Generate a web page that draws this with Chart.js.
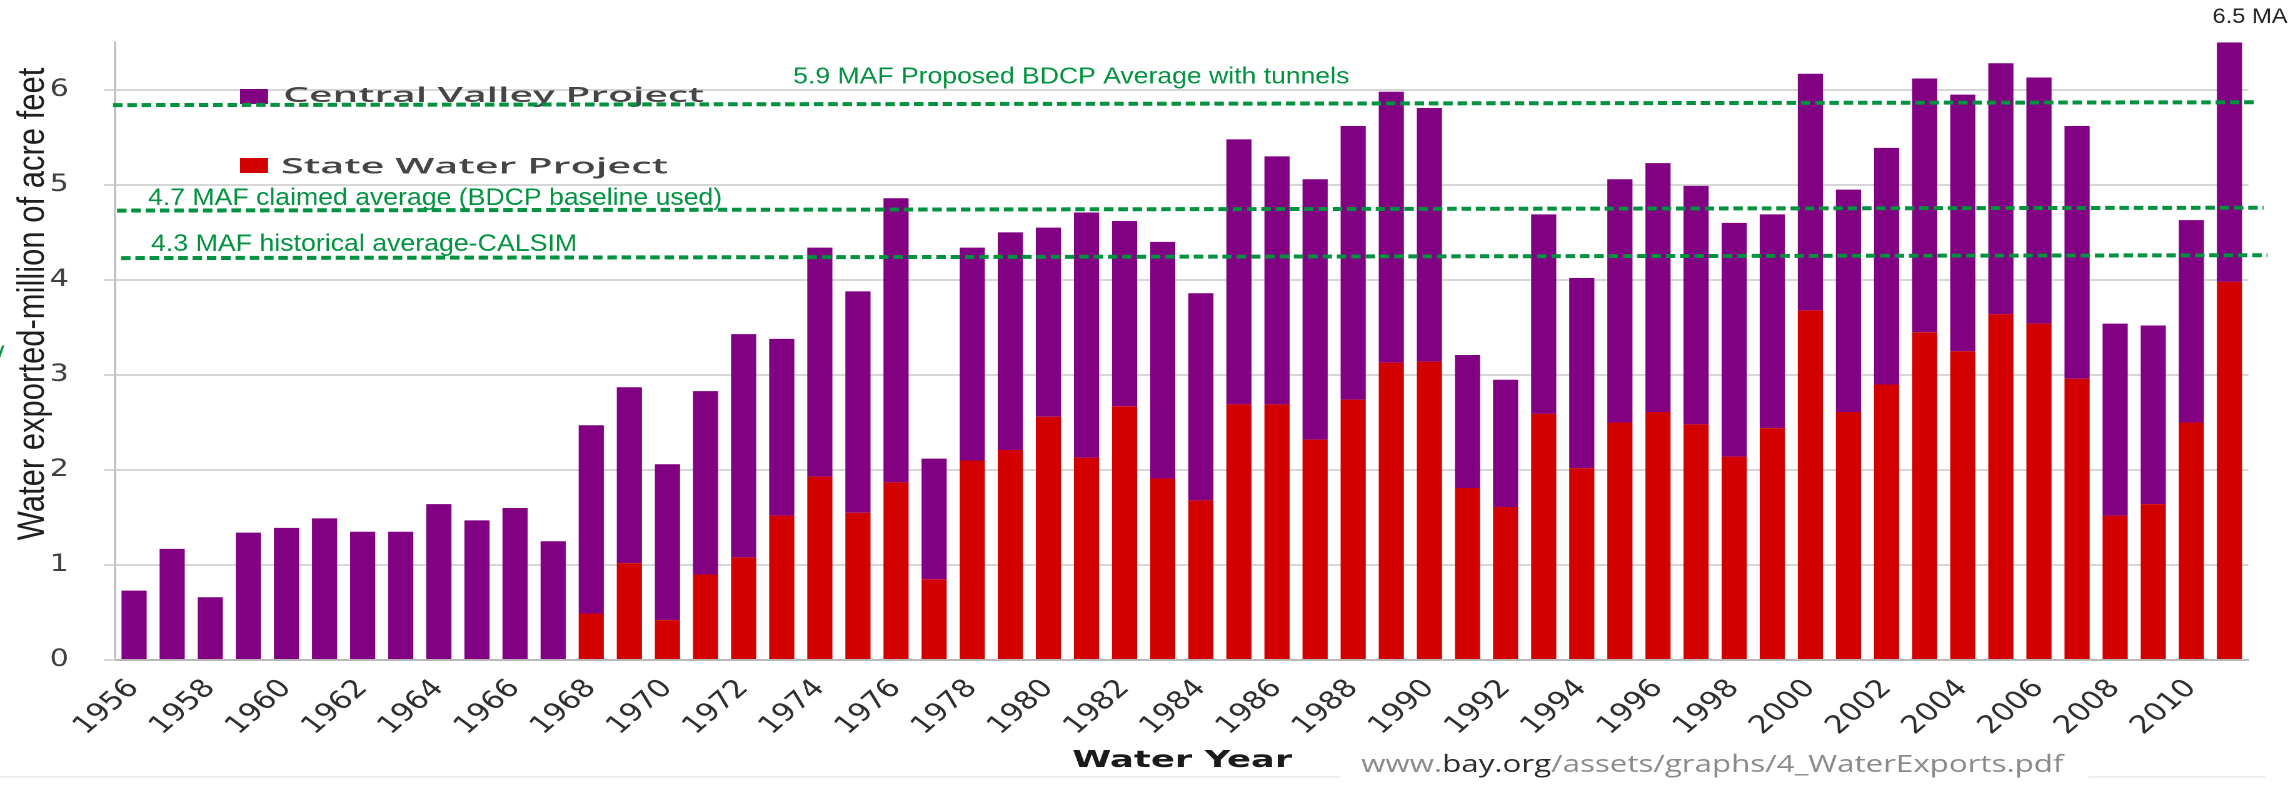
<!DOCTYPE html>
<html>
<head>
<meta charset="utf-8">
<title>Water exports</title>
<script src="https://cdn.jsdelivr.net/npm/chart.js@4.4.1/dist/chart.umd.min.js"></script>
<style>
  html, body { margin: 0; padding: 0; background: #fff; overflow: hidden; }
  #exportsChart { display: block; }
</style>
</head>
<body>
<canvas id="exportsChart" width="1830" height="798" style="width:2288px;height:798px"></canvas>
<script>
const years = [1956, 1957, 1958, 1959, 1960, 1961, 1962, 1963, 1964, 1965, 1966, 1967,
  1968, 1969, 1970, 1971, 1972, 1973, 1974, 1975, 1976, 1977, 1978, 1979,
  1980, 1981, 1982, 1983, 1984, 1985, 1986, 1987, 1988, 1989, 1990, 1991,
  1992, 1993, 1994, 1995, 1996, 1997, 1998, 1999, 2000, 2001, 2002, 2003,
  2004, 2005, 2006, 2007, 2008, 2009, 2010, 2011];

const labeledYears = [1956, 1958, 1960, 1962, 1964, 1966, 1968, 1970, 1972, 1974,
  1976, 1978, 1980, 1982, 1984, 1986, 1988, 1990, 1992, 1994, 1996, 1998, 2000,
  2002, 2004, 2006, 2008, 2010];

// State Water Project (red, bottom of each bar)
const swpExports = [0, 0, 0, 0, 0, 0, 0, 0, 0, 0, 0, 0,
  0.49, 1.02, 0.42, 0.90, 1.08, 1.52, 1.93, 1.55, 1.87, 0.85, 2.10, 2.21,
  2.56, 2.13, 2.67, 1.91, 1.68, 2.69, 2.69, 2.32, 2.74, 3.13, 3.14, 1.81,
  1.61, 2.59, 2.02, 2.50, 2.61, 2.48, 2.14, 2.44, 3.68, 2.61, 2.90, 3.45,
  3.25, 3.64, 3.54, 2.96, 1.52, 1.64, 2.50, 3.98];

// Central Valley Project (purple, stacked on top)
const cvpExports = [0.73, 1.17, 0.66, 1.34, 1.39, 1.49, 1.35, 1.35, 1.64, 1.47, 1.60, 1.25,
  1.98, 1.85, 1.64, 1.93, 2.35, 1.86, 2.41, 2.33, 2.99, 1.27, 2.24, 2.29,
  1.99, 2.58, 1.95, 2.49, 2.18, 2.79, 2.61, 2.74, 2.88, 2.85, 2.67, 1.40,
  1.34, 2.10, 2.00, 2.56, 2.62, 2.51, 2.46, 2.25, 2.49, 2.34, 2.49, 2.67,
  2.70, 2.64, 2.59, 2.66, 2.02, 1.88, 2.13, 2.52];

// dashed reference lines, level at the left and right end as drawn
const refLabels = ['5.9 MAF Proposed BDCP Average with tunnels',
  '4.7 MAF claimed average (BDCP baseline used)',
  '4.3 MAF historical average-CALSIM'];
const refStart = [5.84, 4.73, 4.23];
const refEnd = [5.87, 4.76, 4.26];

// the picture is an old chart stretched sideways: draw narrow, css widens it
const STRETCH = 1.25;
function px(x) {
  return x / STRETCH;
}

function fitText(ctx, text, x, y, font, color, width) {
  ctx.save();
  ctx.font = font;
  const w = ctx.measureText(text).width;
  ctx.translate(x, y);
  ctx.scale(width / w, 1);
  ctx.fillStyle = color;
  ctx.textBaseline = 'alphabetic';
  ctx.textAlign = 'left';
  ctx.fillText(text, 0, 0);
  ctx.restore();
}

const green = '#00923f';

const overlay = {
  id: 'overlay',
  afterDraw(chart) {
    const ctx = chart.ctx;
    const yScale = chart.scales.y;
    const sets = chart.data.datasets;

    // legend, cvp first
    const rows = [
      {ds: sets[1], boxY: 89, base: 102, textX: 283, width: 421, size: 21},
      {ds: sets[0], boxY: 158, base: 173.5, textX: 281, width: 387, size: 22}
    ];
    rows.forEach(r => {
      ctx.fillStyle = r.ds.backgroundColor;
      ctx.fillRect(px(240), r.boxY, px(28), 15);
      fitText(ctx, r.ds.label, px(r.textX), r.base, '600 ' + r.size + 'px "Open Sans"', '#454545', px(r.width));
    });

    // dashed lines
    const lineLeft = [113, 117, 121];
    const lineRight = [2258, 2263, 2267];
    ctx.save();
    ctx.strokeStyle = green;
    ctx.lineWidth = 4;
    ctx.setLineDash([px(9.5), px(4.8)]);
    refStart.forEach((v, i) => {
      ctx.beginPath();
      ctx.moveTo(px(lineLeft[i]), yScale.getPixelForValue(v));
      ctx.lineTo(px(lineRight[i]), yScale.getPixelForValue(refEnd[i]));
      ctx.stroke();
    });
    ctx.restore();

    // labels of the lines
    const labelX = [793, 148, 151];
    const labelBase = [83.5, 205, 251];
    const labelW = [556, 574, 426];
    const labelSize = [23, 24, 24];
    refLabels.forEach((t, i) => {
      fitText(ctx, t, px(labelX[i]), labelBase[i], labelSize[i] + 'px "Liberation Sans"', green, px(labelW[i]));
    });

    // 6.5 MAF note, cut by the right edge
    ctx.save();
    ctx.font = '21px "Liberation Sans"';
    const k = px(75) / ctx.measureText('6.5 MA').width;
    ctx.translate(px(2212), 23);
    ctx.scale(k, 1);
    ctx.fillStyle = '#222';
    ctx.fillText('6.5 MAF', 0, 0);
    ctx.restore();

    // stray green mark at the left edge
    ctx.save();
    ctx.font = '24px "Liberation Sans"';
    ctx.fillStyle = green;
    ctx.fillText('/', px(-4), 363);
    ctx.restore();

    // y axis title
    ctx.save();
    ctx.translate(px(44), 304);
    ctx.rotate(-Math.PI / 2);
    ctx.font = '31px "Liberation Sans"';
    ctx.fillStyle = '#1f1f1f';
    ctx.textAlign = 'center';
    ctx.textBaseline = 'alphabetic';
    ctx.fillText('Water exported-million of acre feet', 0, 0);
    ctx.restore();

    // x axis title
    fitText(ctx, 'Water Year', px(1182 - 110), 767, 'bold 23px "DejaVu Sans"', '#1a1a1a', px(220));

    // faint rule under the chart
    ctx.save();
    ctx.strokeStyle = '#eeeeee';
    ctx.lineWidth = 2;
    ctx.beginPath();
    ctx.moveTo(0, 777);
    ctx.lineTo(px(1340), 777);
    ctx.moveTo(px(2088), 777);
    ctx.lineTo(px(2265), 777);
    ctx.stroke();
    ctx.restore();

    // source line
    const parts = [['www.', '#8a8a8a'], ['bay.org', '#2a2a2a'], ['/assets/graphs/4_WaterExports.pdf', '#8a8a8a']];
    ctx.save();
    ctx.font = '24px "Open Sans"';
    const full = ctx.measureText(parts.map(p => p[0]).join('')).width;
    ctx.translate(px(1361), 772);
    ctx.scale(px(702) / full, 1);
    let cx = 0;
    parts.forEach(p => {
      ctx.fillStyle = p[1];
      ctx.fillText(p[0], cx, 0);
      cx += ctx.measureText(p[0]).width;
    });
    ctx.restore();
  }
};

const exportsChart = new Chart(document.getElementById('exportsChart'), {
  type: 'bar',
  data: {
    labels: years,
    datasets: [{
      label: 'State Water Project',
      data: swpExports,
      backgroundColor: '#d30000',
      borderWidth: 0
    }, {
      label: 'Central Valley Project',
      data: cvpExports,
      backgroundColor: '#820082',
      borderWidth: 0
    }]
  },
  options: {
    responsive: false,
    animation: false,
    devicePixelRatio: 2,
    layout: {
      padding: {top: 32.5, right: 1830 - px(2248), left: 0, bottom: 0}
    },
    datasets: {
      bar: {categoryPercentage: 1, barPercentage: 0.66}
    },
    plugins: {
      legend: {display: false},
      tooltip: {enabled: false}
    },
    scales: {
      x: {
        stacked: true,
        grid: {display: false, drawTicks: false},
        border: {color: '#b8b8b8', width: 2},
        ticks: {
          autoSkip: false,
          minRotation: 47,
          maxRotation: 47,
          padding: 14,
          color: '#2e2e2e',
          font: {family: 'DejaVu Sans', size: 25},
          callback: function (v, i) {
            return labeledYears.includes(years[i]) ? String(years[i]) : '';
          }
        },
        afterFit: function (s) {
          s.height = 798 - 660;
        }
      },
      y: {
        stacked: true,
        min: 0,
        max: 6.5,
        ticks: {
          stepSize: 1,
          padding: 28,
          color: '#404040',
          font: {family: 'DejaVu Sans', size: 24},
          callback: v => Number.isInteger(v) ? v : ''
        },
        grid: {
          lineWidth: 2,
          tickLength: 9,
          color: c => Number.isInteger(c.tick.value) ? '#d6d6d6' : 'rgba(0,0,0,0)',
          tickColor: c => Number.isInteger(c.tick.value) ? '#d6d6d6' : 'rgba(0,0,0,0)'
        },
        border: {color: '#c4c4c4', width: 2},
        afterFit: function (s) {
          s.width = px(115);
        }
      }
    }
  },
  plugins: [overlay]
});
</script>
</body>
</html>
